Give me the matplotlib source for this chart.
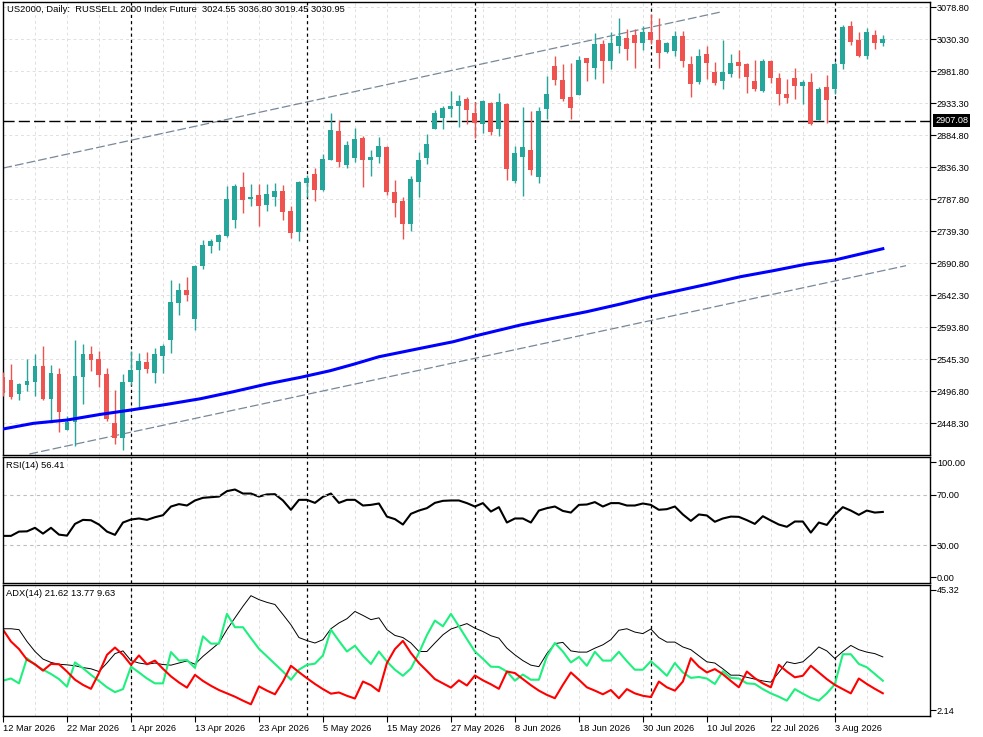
import matplotlib.pyplot as plt
import matplotlib.transforms as mtransforms

plt.rcParams['font.family'] = ['Liberation Sans', 'DejaVu Sans']

opens = [2518.1, 2514.0, 2493.2, 2506.8, 2511.4, 2535.2, 2485.6, 2523.0, 2438.6, 2450.8,
         2519.0, 2553.4, 2545.8, 2523.0, 2448.8, 2426.5, 2511.4, 2529.1, 2541.3, 2525.0,
         2550.8, 2574.6, 2630.2, 2650.4, 2606.4, 2687.2, 2717.0, 2723.5, 2732.2, 2756.4,
         2806.4, 2788.3, 2794.3, 2779.6, 2791.7, 2800.4, 2770.1, 2738.7, 2813.0, 2826.6,
         2801.9, 2847.4, 2891.3, 2839.8, 2850.9, 2881.2, 2847.4, 2852.4, 2867.5, 2798.9,
         2785.2, 2750.4, 2814.5, 2849.9, 2893.9, 2911.5, 2924.7, 2929.2, 2939.8, 2918.6,
         2901.9, 2933.8, 2894.4, 2932.3, 2815.6, 2852.4, 2862.1, 2822.1, 2924.7, 2989.9,
         2968.6, 2942.9, 2945.9, 3002.0, 2986.8, 3023.2, 2997.4, 3020.2, 3032.3, 3036.8,
         3025.2, 3041.4, 3029.2, 3011.1, 3013.1, 3035.3, 2992.9, 2965.6, 3008.1, 2980.8,
         2967.6, 2978.2, 2995.9, 2992.9, 2967.6, 2952.0, 2997.4, 2971.7, 2947.4, 2971.7,
         2960.0, 2965.6, 2908.0, 2958.0, 2955.5, 2993.4, 3050.5, 3029.2, 3005.5, 3036.8,
         3024.55]
highs = [2526.1, 2538.2, 2509.0, 2545.8, 2553.4, 2565.5, 2536.7, 2532.2, 2459.9, 2574.6,
         2568.5, 2565.5, 2557.5, 2532.2, 2498.8, 2523.0, 2557.9, 2554.9, 2556.4, 2562.5,
         2568.5, 2665.5, 2660.5, 2670.5, 2688.2, 2726.1, 2728.1, 2735.2, 2808.4, 2810.5,
         2829.2, 2810.5, 2810.5, 2811.5, 2812.5, 2809.0, 2777.6, 2816.0, 2825.1, 2835.2,
         2856.5, 2918.2, 2908.0, 2876.2, 2896.3, 2884.2, 2862.5, 2882.7, 2869.0, 2817.1,
         2791.7, 2823.1, 2859.0, 2886.8, 2923.2, 2929.2, 2952.0, 2945.9, 2942.9, 2935.7,
         2938.3, 2935.7, 2948.5, 2933.8, 2869.0, 2927.7, 2921.6, 2927.7, 2974.7, 3005.0,
         2992.9, 2994.0, 3005.0, 3002.0, 3039.9, 3029.3, 3041.4, 3062.6, 3045.9, 3045.9,
         3050.5, 3068.7, 3062.6, 3026.7, 3042.9, 3042.9, 3005.5, 3015.6, 3020.2, 2995.9,
         3029.2, 3008.0, 3014.1, 2994.4, 2999.0, 3000.5, 2999.0, 2979.7, 2970.6, 2986.8,
         2968.6, 2979.2, 2958.0, 2976.2, 2995.9, 3052.5, 3058.1, 3041.4, 3047.5, 3044.4,
         3036.80]
lows = [2489.7, 2485.2, 2484.1, 2497.7, 2489.7, 2483.6, 2453.3, 2435.6, 2437.5, 2414.4,
        2477.6, 2528.1, 2503.8, 2452.3, 2417.4, 2408.3, 2506.4, 2471.1, 2525.0, 2509.9,
        2525.0, 2555.3, 2612.5, 2633.7, 2589.7, 2682.6, 2706.9, 2711.0, 2731.1, 2744.3,
        2766.6, 2778.1, 2747.3, 2769.6, 2777.2, 2756.4, 2729.6, 2725.0, 2790.8, 2785.7,
        2800.4, 2847.4, 2837.2, 2835.7, 2844.8, 2806.9, 2823.1, 2843.3, 2794.3, 2761.4,
        2727.6, 2740.2, 2791.7, 2841.3, 2893.9, 2894.8, 2912.1, 2897.4, 2901.9, 2881.2,
        2888.7, 2885.2, 2884.2, 2817.1, 2812.0, 2792.8, 2824.6, 2812.5, 2909.5, 2961.1,
        2936.8, 2909.5, 2945.9, 2967.1, 2970.2, 2964.1, 2985.3, 3009.6, 2999.0, 2986.8,
        3014.1, 3023.7, 2987.3, 3010.0, 3005.5, 2988.8, 2943.3, 2963.0, 2970.2, 2961.5,
        2955.5, 2973.7, 2972.1, 2948.9, 2952.0, 2950.5, 2964.6, 2931.2, 2934.2, 2940.3,
        2932.7, 2900.9, 2908.0, 2903.9, 2947.4, 2985.8, 3022.2, 3003.5, 3000.9, 3016.1,
        3019.45]
closes = [2493.8, 2488.6, 2507.9, 2512.4, 2535.2, 2485.2, 2524.6, 2465.9, 2450.8, 2520.0,
          2553.4, 2544.7, 2522.0, 2454.9, 2426.5, 2510.9, 2529.1, 2542.8, 2531.1, 2553.4,
          2565.5, 2632.6, 2650.4, 2642.8, 2686.7, 2718.5, 2724.6, 2734.1, 2788.3, 2808.4,
          2786.7, 2791.3, 2778.1, 2795.8, 2800.4, 2768.5, 2737.2, 2814.5, 2820.5, 2801.9,
          2848.9, 2892.8, 2844.8, 2870.1, 2879.2, 2847.4, 2851.5, 2868.6, 2798.4, 2782.7,
          2750.4, 2818.6, 2847.4, 2871.6, 2918.6, 2926.2, 2929.2, 2937.3, 2923.2, 2903.5,
          2937.3, 2889.8, 2935.3, 2833.7, 2858.0, 2867.1, 2832.2, 2921.6, 2947.4, 2968.6,
          2939.4, 2926.2, 2999.0, 2994.4, 3023.2, 2997.4, 3024.7, 3035.3, 3015.6, 3025.2,
          3041.4, 3029.7, 3010.0, 3025.2, 3035.3, 2997.9, 2963.0, 3005.0, 2994.9, 2964.6,
          2980.8, 2994.4, 2990.3, 2973.7, 2955.0, 2997.4, 2972.1, 2947.9, 2941.8, 2960.0,
          2965.6, 2902.4, 2955.0, 2938.8, 2992.9, 3049.4, 3026.2, 3005.0, 3041.4, 3025.2,
          3030.95]

# moving average at these bars
ma_bars = [0, 3.8, 8, 12.2, 16, 20.5, 24.7, 28.8, 33, 37.2, 40.9, 43.8, 47, 52.2, 56.3,
           59, 64.7, 68.8, 73, 77.2, 80.9, 83.8, 88, 92.2, 96.3, 100.5, 104, 110]
ma_vals = [2439.7, 2448.3, 2453.3, 2461.9, 2468.5, 2477.1, 2485.6, 2496.2, 2507.9, 2518.0,
           2528.0, 2537.7, 2549.2, 2562.0, 2572.0, 2580.6, 2597.3, 2607.4, 2617.5, 2629.1,
           2640.2, 2647.8, 2658.9, 2670.5, 2679.6, 2689.7, 2695.8, 2712.9]

# channel trend lines (bar, price) anchors
upper_bars = [0.04, 89.9]
upper_vals = [2835.2, 3072.1]
lower_bars = [3.3, 112.9]
lower_vals = [2401.8, 2687.2]

level = 2907.08
month_starts = [16, 38, 59, 81, 104]

rsi = [37.4, 37.4, 40.8, 41.0, 43.8, 39.2, 43.8, 38.4, 37.6, 46.9,
       50.1, 49.8, 46.4, 40.8, 38.2, 48.0, 50.4, 51.2, 50.1, 52.2,
       53.8, 60.7, 62.6, 61.5, 65.5, 67.6, 68.1, 68.6, 72.9, 74.2,
       71.0, 71.0, 68.6, 70.3, 70.5, 65.5, 58.1, 66.0, 66.0, 63.6,
       68.4, 71.0, 63.6, 66.0, 66.0, 61.5, 62.0, 63.1, 52.7, 50.7,
       46.4, 54.9, 57.5, 59.4, 63.6, 65.2, 65.5, 65.5, 63.4, 60.7,
       63.4, 56.7, 60.2, 48.0, 51.2, 51.2, 48.0, 57.5, 59.4, 60.7,
       57.2, 55.9, 62.0, 62.3, 64.2, 60.7, 63.4, 63.4, 61.5, 61.5,
       63.1, 62.0, 58.1, 58.6, 60.7, 54.4, 49.3, 54.4, 53.6, 48.6,
       51.2, 52.7, 52.5, 49.9, 46.9, 53.0, 49.6, 46.4, 44.6, 48.8,
       48.8, 40.0, 48.0, 46.1, 54.1, 60.2, 57.5, 54.1, 57.5, 55.9,
       56.41]

adx = [30.9, 30.9, 30.6, 26.7, 23.4, 20.9, 19.8, 19.2, 19.0, 18.7,
       18.1, 17.7, 16.8, 19.6, 22.7, 23.6, 20.4, 19.6, 19.2, 19.6,
       19.1, 18.9, 19.6, 20.3, 19.2, 21.8, 24.0, 26.2, 30.6, 34.5,
       38.3, 41.8, 40.5, 39.6, 38.9, 35.6, 32.2, 28.0, 27.0, 26.2,
       27.3, 30.9, 32.8, 34.2, 36.6, 35.3, 33.9, 34.5, 30.6, 28.7,
       28.0, 26.2, 23.4, 23.4, 26.2, 28.9, 30.8, 31.7, 32.6, 31.1,
       30.0, 28.6, 27.8, 24.5, 22.3, 20.4, 18.9, 18.4, 22.7, 26.0,
       26.4, 23.6, 23.2, 23.2, 24.5, 25.6, 27.3, 30.4, 30.9, 29.8,
       29.3, 30.8, 28.0, 26.5, 26.5, 24.9, 24.0, 22.0, 20.0, 19.6,
       17.7, 15.6, 15.6, 14.9, 14.3, 13.7, 13.3, 16.5, 20.0, 19.4,
       20.0, 22.3, 24.9, 23.6, 21.1, 23.4, 25.4, 24.0, 23.2, 22.7,
       21.62]
plus_di = [13.8, 14.5, 12.9, 21.2, 19.0, 17.4, 16.0, 14.3, 11.8, 19.8,
           17.9, 15.7, 13.7, 11.6, 10.0, 11.0, 18.4, 16.5, 14.5, 12.9,
           12.9, 23.2, 20.4, 20.6, 18.0, 28.4, 26.0, 26.0, 35.8, 31.4,
           31.4, 27.8, 24.3, 21.8, 19.3, 16.8, 14.1, 17.4, 19.0, 19.4,
           22.1, 30.6, 26.9, 23.4, 25.3, 22.0, 19.3, 23.4, 20.1, 17.4,
           15.4, 17.8, 22.9, 28.8, 33.6, 31.7, 35.8, 31.7, 27.5, 23.4,
           21.0, 18.4, 18.3, 16.8, 13.8, 15.8, 14.1, 14.1, 21.8, 26.2,
           23.4, 19.8, 21.6, 18.7, 23.3, 20.4, 20.4, 23.3, 20.2, 17.4,
           17.4, 20.2, 17.9, 15.4, 19.6, 16.5, 14.7, 15.0, 14.5, 12.7,
           16.9, 14.7, 14.5, 12.9, 12.7, 11.0, 9.6, 8.5, 7.2, 11.0,
           9.5, 8.1, 7.2, 9.6, 12.6, 22.5, 22.5, 19.3, 18.2, 16.0,
           13.77]
minus_di = [30.6, 26.7, 24.2, 20.7, 19.2, 17.1, 19.3, 19.2, 16.8, 14.1,
            12.4, 11.1, 16.3, 22.3, 24.7, 22.3, 19.0, 22.1, 19.2, 20.4,
            17.7, 15.2, 13.2, 11.5, 15.7, 13.7, 12.1, 10.7, 9.6, 8.5,
            7.2, 6.0, 11.9, 10.5, 9.3, 13.5, 18.7, 16.6, 14.6, 12.7,
            11.0, 9.5, 9.9, 8.8, 7.9, 13.5, 12.3, 10.3, 19.6, 24.2,
            26.9, 22.9, 19.6, 17.0, 14.3, 12.9, 11.5, 13.9, 12.2, 15.5,
            13.9, 12.6, 11.1, 16.8, 16.3, 14.3, 12.3, 10.5, 9.1, 8.0,
            12.4, 16.5, 14.1, 11.6, 10.5, 9.3, 10.7, 8.0, 11.0, 9.6,
            8.8, 8.4, 13.5, 11.6, 10.5, 13.5, 21.2, 18.4, 16.5, 17.6,
            15.9, 13.7, 11.6, 16.8, 14.6, 12.9, 11.6, 19.0, 16.8, 14.9,
            15.4, 18.7, 16.5, 14.3, 12.4, 11.0, 9.6, 14.5, 12.7, 11.1,
            9.63]

date_labels = ['12 Mar 2026', '22 Mar 2026', '1 Apr 2026', '13 Apr 2026', '23 Apr 2026',
               '5 May 2026', '15 May 2026', '27 May 2026', '8 Jun 2026', '18 Jun 2026',
               '30 Jun 2026', '10 Jul 2026', '22 Jul 2026', '3 Aug 2026']
price_ticks = [2448.30, 2496.80, 2545.30, 2593.80, 2642.30, 2690.80, 2739.30, 2787.80,
               2836.30, 2884.80, 2933.30, 2981.80, 3030.30, 3078.80]

W, H = 983, 737
fs = 6.6


def rect(l, t, r, b):
    return [l / W, 1 - b / H, (r - l) / W, (b - t) / H]


fig = plt.figure(figsize=(W / 100, H / 100), dpi=100)
ax = fig.add_axes(rect(3, 2, 930, 455))
ax_rsi = fig.add_axes(rect(3, 457, 930, 583))
ax_adx = fig.add_axes(rect(3, 585, 930, 716))

bars = list(range(len(closes)))
grid_kw = dict(color='#e0e0e0', linestyle=(0, (3, 3)), linewidth=0.7)

for a in (ax, ax_rsi, ax_adx):
    a.set_xlim(0.04, 115.9)
    a.set_xticks(range(0, 105, 8))
    a.set_xticks(range(4, 116, 8), minor=True)
    a.grid(True, which='both', axis='x', **grid_kw)
    a.tick_params(axis='x', which='minor', length=0)
    a.yaxis.tick_right()
    a.tick_params(axis='y', length=4, width=0.8, labelsize=fs, pad=1)
    for s in a.spines.values():
        s.set_linewidth(1.0)
        s.set_color('black')
    for m in month_starts:
        a.axvline(m, color='black', linestyle=(0, (2.5, 2.5)), linewidth=0.9, zorder=1)
    a.set_axisbelow(True)

# price panel
up = '#26a69a'
down = '#ef5350'
cols = [up if c >= o else down for o, c in zip(opens, closes)]
ax.vlines(bars, lows, highs, colors=cols, linewidth=1.0, zorder=3)
body_lo = [min(o, c) for o, c in zip(opens, closes)]
body_h = [max(abs(c - o), 1.5) for o, c in zip(opens, closes)]
ax.bar(bars, body_h, bottom=body_lo, width=0.62, color=cols, linewidth=0, zorder=4)

ax.plot(ma_bars, ma_vals, color='#0000ff', linewidth=2.2, zorder=5)
ax.plot(upper_bars, upper_vals, color='#778899', linestyle=(0, (7, 2.5)), linewidth=0.9, zorder=2)
ax.plot(lower_bars, lower_vals, color='#778899', linestyle=(0, (7, 2.5)), linewidth=0.9, zorder=2)
ax.axhline(level, color='black', linestyle=(0, (8, 3)), linewidth=1.0, zorder=2)

ax.set_ylim(2400.3, 3086.8)
ax.set_yticks(price_ticks)
ax.set_yticklabels(['%.2f' % p for p in price_ticks])
ax.grid(True, axis='y', **grid_kw)
ax.tick_params(axis='x', which='major', length=0, labelbottom=False)

trans = mtransforms.blended_transform_factory(ax.transAxes, ax.transData)
ax.text(1.0055, level, '%.2f' % level, transform=trans, color='white', fontsize=fs,
        va='center', ha='left',
        bbox=dict(boxstyle='square,pad=0.18', facecolor='black', edgecolor='none'))

fig.text(7 / W, 1 - 9 / H,
         'US2000, Daily:  RUSSELL 2000 Index Future  3024.55 3036.80 3019.45 3030.95',
         fontsize=6.75, va='center', ha='left')

# RSI panel
ax_rsi.plot(bars, rsi, color='black', linewidth=1.5)
ax_rsi.axhline(70, color='#bdbdbd', linestyle=(0, (3, 3)), linewidth=0.8)
ax_rsi.axhline(30, color='#bdbdbd', linestyle=(0, (3, 3)), linewidth=0.8)
ax_rsi.set_ylim(0, 100)
ax_rsi.set_yticks([4.5, 30, 70, 96])
ax_rsi.set_yticklabels(['0.00', '30.00', '70.00', '100.00'])
ax_rsi.tick_params(axis='x', which='major', length=0, labelbottom=False)
fig.text(6 / W, 1 - 466 / H, 'RSI(14) 56.41', fontsize=6.75, va='center', ha='left')

# ADX panel
ax_adx.plot(bars, adx, color='black', linewidth=0.7)
ax_adx.plot(bars, plus_di, color='#1ef07e', linewidth=1.5)
ax_adx.plot(bars, minus_di, color='#ff0000', linewidth=1.5)
ax_adx.set_ylim(2.14, 45.32)
ax_adx.set_yticks([4.1, 43.8])
ax_adx.set_yticklabels(['2.14', '45.32'])
ax_adx.set_xticklabels(date_labels)
ax_adx.tick_params(axis='x', which='major', length=4, width=0.8, labelsize=6.7, pad=1.5)
for lab in ax_adx.get_xticklabels():
    lab.set_ha('left')
fig.text(6 / W, 1 - 594 / H, 'ADX(14) 21.62 13.77 9.63', fontsize=6.75, va='center', ha='left')

fig.savefig('out.png', dpi=100)
